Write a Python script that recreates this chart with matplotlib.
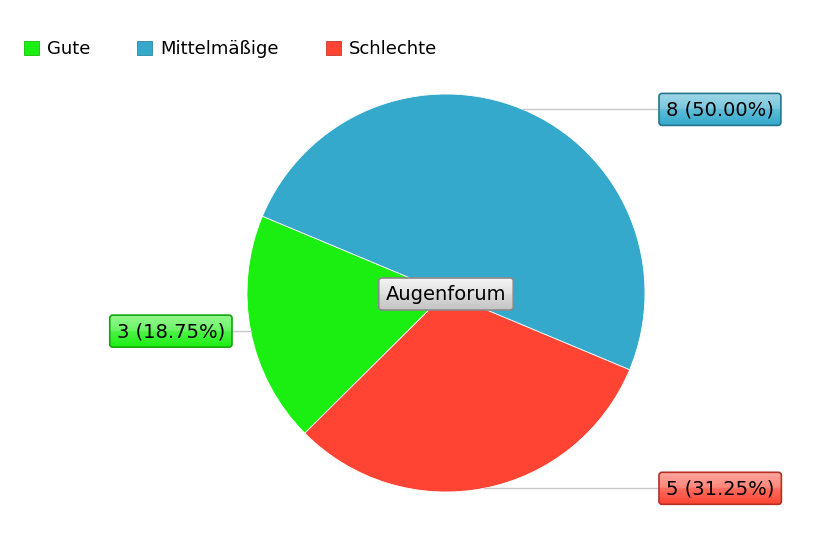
import numpy as np
import matplotlib.pyplot as plt
from matplotlib.patches import FancyBboxPatch, Patch
import matplotlib.colors as mcolors

# data
categories = ["Gute", "Mittelmäßige", "Schlechte"]
counts = [3, 8, 5]
colors = ["#1bef11", "#34a9cc", "#ff4433"]
title_label = "Augenforum"

W, H = 820, 547
fig = plt.figure(figsize=(W / 100, H / 100), dpi=100)
ax = fig.add_axes([0, 0, 1, 1])
ax.set_xlim(0, W)
ax.set_ylim(0, H)
ax.set_aspect("equal")
ax.axis("off")

cx, cy, r = 446, H - 293, 199
total = sum(counts)
start = 224.8

wedges, _ = ax.pie(counts, colors=colors, startangle=start, counterclock=False,
                   center=(cx, cy), radius=r, frame=True,
                   wedgeprops=dict(edgecolor="white", linewidth=0.6))
ax.set_xlim(0, W)
ax.set_ylim(0, H)
ax.axis("off")

renderer = fig.canvas.get_renderer()


def grad_box(xc, yc, text, base, edge, fontsize=14, anchor="center", top=None):
    t = ax.text(0, 0, text, fontsize=fontsize, color="black", zorder=6,
                ha="center", va="center")
    bb = t.get_window_extent(renderer)
    w, h = bb.width + 14, 32
    if anchor == "left":
        x0 = xc
    elif anchor == "right":
        x0 = xc - w
    else:
        x0 = xc - w / 2
    y0 = yc - h / 2
    t.set_position((x0 + w / 2, yc - 1))
    box = FancyBboxPatch((x0, y0), w, h, boxstyle="round,pad=0,rounding_size=3",
                         facecolor="none", edgecolor=edge, linewidth=1.2, zorder=5)
    ax.add_patch(box)
    c = np.array(mcolors.to_rgb(base))
    light = c + (1 - c) * 0.45 if top is None else np.array(mcolors.to_rgb(top))
    n = 64
    f = np.linspace(0, 1, n)[:, None]
    grad = light * (1 - f) + c * f
    # brighter upper half, like a glossy button
    grad[: n // 2] = grad[: n // 2] * 0.85 + 0.15
    img = ax.imshow(grad[:, None, :], extent=(x0, x0 + w, y0, y0 + h),
                    origin="upper", aspect="auto", zorder=4, interpolation="bilinear")
    img.set_clip_path(box)
    return x0, w


# leader lines and value boxes
ang = start
for cat, v, col in zip(categories, counts, colors):
    span = 360 * v / total
    mid = np.deg2rad(ang - span / 2)
    ang -= span
    px, py = cx + r * np.cos(mid), cy + r * np.sin(mid)
    label = f"{v} ({100 * v / total:.2f}%)"
    edge = np.array(mcolors.to_rgb(col)) * 0.7
    if px > cx:
        bx = 659
        ax.plot([px, bx], [py, py], color="#c8c8c8", lw=1, zorder=3)
        grad_box(bx, py, label, col, edge, anchor="left")
    else:
        bx = 232
        ax.plot([bx, px], [py, py], color="#c8c8c8", lw=1, zorder=3)
        grad_box(bx, py, label, col, edge, anchor="right")

# centre label
grad_box(cx, H - 294, title_label, "#c4c4c4", "#8a8a8a", top="#f2f2f2")

handles = [Patch(facecolor=c, edgecolor=np.array(mcolors.to_rgb(c)) * 0.8, linewidth=0.6)
           for c in colors]
fig.legend(handles, categories, loc="center left", bbox_to_anchor=(24 / W, 1 - 49 / H),
           ncol=3, frameon=False, fontsize=13, borderpad=0, borderaxespad=0,
           handlelength=0.83, handleheight=0.83, handletextpad=0.45,
           columnspacing=2.6)

fig.savefig("out.png", dpi=100)
